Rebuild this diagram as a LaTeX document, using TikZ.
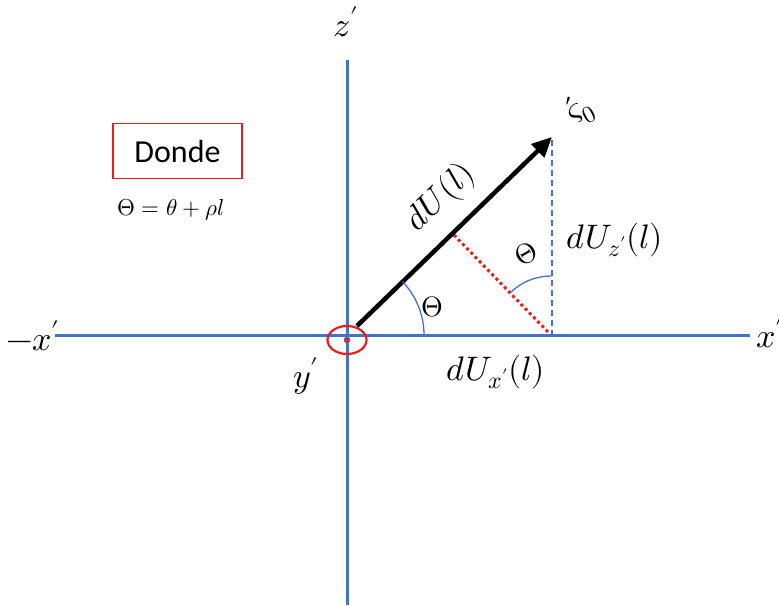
\documentclass[tikz,border=0pt]{standalone}
\usepackage{unicode-math}
\setmathfont{Latin Modern Math}
\newfontfamily\carlitofont{Carlito}
\usetikzlibrary{arrows.meta,shapes.geometric}
\definecolor{axblue}{RGB}{68,114,196}
\definecolor{myred}{RGB}{235,30,30}
\tikzset{
  axis/.style={draw=axblue, line width=3pt},
  lbl/.style={font=\fontsize{34}{40}\selectfont, inner sep=0pt},
  thlbl/.style={font=\fontsize{28}{32}\selectfont, inner sep=0pt},
  anglearc/.style={draw=axblue, line width=1.3pt},
}
\begin{document}
\begin{tikzpicture}[x=1pt,y=-1pt]
\useasboundingbox (0,0) rectangle (779,605);
\coordinate (O) at (347,335);
\coordinate (zt) at (347,60);
\coordinate (zb) at (347,605);
\coordinate (xl) at (55,335);
\coordinate (xr) at (750,335);
\coordinate (S) at (357,326);
\coordinate (T) at (552,137);
\coordinate (Dt) at (552,140);
\coordinate (Db) at (552,335);
\coordinate (F) at (454,235);
\coordinate (G) at (548,332);
% axes
\draw[axis] (zt) -- (zb);
\draw[axis] (xl) -- (xr);
% dashed component
\draw[axblue, line width=1.4pt, dash pattern=on 6pt off 4pt] (Dt) -- (Db);
% red dotted projection
\draw[myred, line width=3pt, dash pattern=on 3pt off 3pt] (F) -- (G);
% main vector
\draw[line width=4.5pt, -{Triangle[length=20pt,width=18pt]}] (S) -- (T);
% angle arcs
\draw[anglearc] (424,335) arc[start angle=0, end angle=-44, radius=77];
\draw[anglearc] (551,276) arc[start angle=-90, end angle=-134, radius=58];
% origin ellipse
\node[draw=myred, line width=2.2pt, ellipse, minimum width=39pt, minimum height=28pt, inner sep=0pt] (Y) at (347,340) {};
\node[circle, fill=myred, draw=axblue, line width=0.6pt, minimum size=6pt, inner sep=0pt] (Yd) at (347,340) {};
% labels
\node[lbl] (zl) at (346,22) {$z'$};
\node[lbl] (mx) at (33,336) {$-x'$};
\node[lbl] (px) at (770,333) {$x'$};
\node[lbl] (yl) at (306,376) {$y'$};
\node[lbl, rotate=44] (dU) at (441,198) {$dU(l)$};
\node[lbl] (dUz) at (615,240) {$dU_{z'}(l)$};
\node[lbl] (dUx) at (496,372) {$dU_{x'}(l)$};
\node[thlbl] (Th1) at (432,307) {$\Theta$};
\node[thlbl, rotate=30] (Th2) at (526,254) {$\Theta$};
\node[lbl, rotate=28] (sig) at (580,110) {$\acute{\varsigma}_0$};
% Donde box
\node[draw=myred, line width=1.4pt, minimum width=129pt, minimum height=55pt, inner sep=0pt, font=\carlitofont\fontsize{32}{36}\selectfont] (don) at (177.5,151) {Donde};
\node[font=\fontsize{23}{27}\selectfont, inner sep=0pt] (eq) at (171,210) {$\Theta=\theta+\rho l$};
\end{tikzpicture}
\end{document}
